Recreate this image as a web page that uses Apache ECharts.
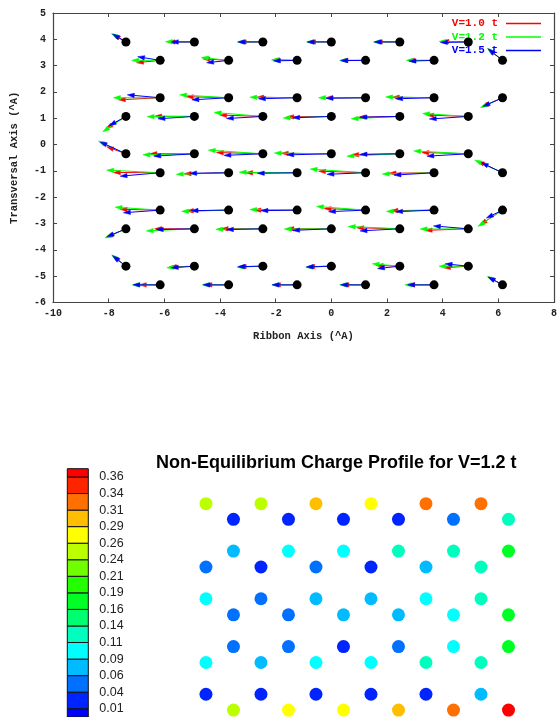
<!DOCTYPE html>
<html>
<head>
<meta charset="utf-8">
<script src="https://cdn.jsdelivr.net/npm/echarts@6/dist/echarts.min.js"></script>
<style>
html,body{margin:0;padding:0;background:#fff;}
#chart{width:560px;height:717px;}
</style>
</head>
<body>
<div id="chart"></div>
<script>
// ---------- data ----------
// atom positions (Angstrom), row by row
const atomX = [
 -7.38,-4.92,-2.46,0,2.46,4.92,
 -6.15,-3.69,-1.23,1.23,3.69,6.15,
 -6.15,-3.69,-1.23,1.23,3.69,6.15,
 -7.38,-4.92,-2.46,0,2.46,4.92,
 -7.38,-4.92,-2.46,0,2.46,4.92,
 -6.15,-3.69,-1.23,1.23,3.69,6.15,
 -6.15,-3.69,-1.23,1.23,3.69,6.15,
 -7.38,-4.92,-2.46,0,2.46,4.92,
 -7.38,-4.92,-2.46,0,2.46,4.92,
 -6.15,-3.69,-1.23,1.23,3.69,6.15
];
const atomY = [
 3.9,3.9,3.9,3.9,3.9,3.9,
 3.2,3.2,3.2,3.2,3.2,3.2,
 1.78,1.78,1.78,1.78,1.78,1.78,
 1.07,1.07,1.07,1.07,1.07,1.07,
 -0.35,-0.35,-0.35,-0.35,-0.35,-0.35,
 -1.07,-1.07,-1.07,-1.07,-1.07,-1.07,
 -2.49,-2.49,-2.49,-2.49,-2.49,-2.49,
 -3.2,-3.2,-3.2,-3.2,-3.2,-3.2,
 -4.62,-4.62,-4.62,-4.62,-4.62,-4.62,
 -5.33,-5.33,-5.33,-5.33,-5.33,-5.33
];
// current vectors for V=1.0 t (red)
const dxR = [
 -0.45,-0.95,-0.85,-0.82,-0.88,-0.95,
 -0.85,-0.93,-0.88,-0.88,-0.95,-0.50,
 -1.50,-1.52,-1.45,-1.43,-1.50,-0.75,
 -0.72,-1.43,-1.55,-1.60,-1.49,-1.49,
 -0.69,-1.60,-1.67,-1.80,-1.73,-1.67,
 -1.68,-1.60,-1.85,-1.69,-1.62,-0.90,
 -1.44,-1.52,-1.55,-1.49,-1.55,-0.80,
 -0.72,-1.43,-1.50,-1.60,-1.55,-1.55,
 -0.45,-0.90,-0.85,-0.85,-0.85,-0.89,
 -0.75,-0.85,-0.85,-0.85,-0.95,-0.50
];
const dyR = [
 0.28,0,0,0,0,0.02,
 -0.09,0.06,0.02,0,0,0.42,
 -0.08,0.04,0.02,0,0.02,-0.35,
 -0.46,0.01,0.05,-0.02,-0.03,0.05,
 0.27,0,0.05,0.02,-0.04,0.05,
 0.01,-0.04,0,0.06,-0.02,0.44,
 0.03,-0.03,0,0.06,-0.02,-0.55,
 -0.33,0,0,0,0.04,-0.06,
 0.38,-0.03,-0.02,-0.02,0.03,-0.06,
 0,0,0,0,0,0.30
];
// V=1.2 t (green)
const dxG = [
 -0.52,-1.04,-0.92,-0.89,-0.95,-1.05,
 -1.02,-0.98,-0.92,-0.93,-0.99,-0.55,
 -1.68,-1.76,-1.70,-1.69,-1.74,-0.79,
 -0.83,-1.70,-1.75,-1.73,-1.75,-1.64,
 -0.99,-1.85,-1.96,-2.05,-1.90,-1.96,
 -1.92,-1.88,-2.08,-1.99,-1.86,-1.00,
 -1.62,-1.69,-1.70,-1.76,-1.71,-0.88,
 -0.75,-1.73,-1.69,-1.69,-1.85,-1.73,
 -0.51,-0.99,-0.93,-0.92,-0.99,-1.05,
 -1.00,-0.95,-0.91,-0.93,-1.05,-0.55
];
const dyG = [
 0.32,0.01,0,0,0,0.02,
 0,0.11,0.02,0,0,0.46,
 0,0.11,0.02,0,0.03,-0.37,
 -0.58,-0.01,0.15,-0.06,-0.09,0.11,
 0.48,-0.04,0.14,0.03,-0.09,0.11,
 0.10,-0.06,0.02,0.14,-0.05,0.48,
 0.11,-0.05,0.02,0.14,-0.05,-0.62,
 -0.35,-0.08,-0.02,-0.01,0.09,-0.01,
 0.43,-0.06,-0.04,-0.04,0.09,0,
 0,0,0,0,0,0.32
];
// V=1.5 t (blue)
const dxB = [
 -0.48,-0.83,-0.90,-0.87,-0.92,-1.00,
 -0.81,-0.79,-0.85,-0.90,-0.90,-0.52,
 -1.18,-1.32,-1.39,-1.42,-1.38,-0.70,
 -0.60,-1.31,-1.31,-1.39,-1.43,-1.40,
 -0.93,-1.46,-1.40,-1.60,-1.43,-1.49,
 -1.44,-1.40,-1.43,-1.39,-1.44,-0.76,
 -1.32,-1.35,-1.30,-1.33,-1.38,-0.58,
 -0.68,-1.37,-1.31,-1.39,-1.43,-1.25,
 -0.48,-0.83,-0.90,-0.90,-0.80,-0.83,
 -0.98,-0.92,-0.90,-0.90,-0.95,-0.52
];
const dyB = [
 0.30,0,0,0,0,-0.02,
 0.14,-0.09,-0.02,-0.01,-0.03,0.44,
 0.11,-0.08,-0.04,-0.02,-0.04,-0.33,
 -0.35,-0.09,-0.08,-0.05,-0.03,-0.10,
 0.45,-0.09,-0.06,-0.04,-0.02,-0.09,
 -0.13,-0.02,-0.02,-0.06,-0.09,0.38,
 -0.10,-0.02,-0.02,-0.06,-0.06,-0.30,
 -0.30,-0.03,-0.03,-0.06,-0.08,0.11,
 0.40,-0.06,-0.02,-0.03,-0.09,0.09,
 0,0,0,0,0,0.30
];
// non-equilibrium charge for V=1.2 t, same atom order
const charge = [
 0.25,0.25,0.30,0.275,0.325,0.325,
 0.025,0.025,0.025,0.025,0.05,0.125,
 0.075,0.10,0.10,0.125,0.125,0.175,
 0.05,0.025,0.05,0.025,0.075,0.125,
 0.10,0.05,0.075,0.075,0.10,0.125,
 0.05,0.05,0.075,0.075,0.10,0.175,
 0.05,0.05,0.025,0.05,0.10,0.175,
 0.10,0.075,0.10,0.10,0.125,0.125,
 0.025,0.025,0.025,0.025,0.025,0.075,
 0.25,0.275,0.275,0.30,0.325,0.37
];
// colour bar levels, labels and band colours (lowest first)
const cbLevels = [0.0125,0.0375,0.0625,0.0875,0.1125,0.1375,0.1625,0.1875,0.2125,0.2375,0.2625,0.2875,0.3125,0.3375,0.3625];
const cbLabels = ['0.01','0.04','0.06','0.09','0.11','0.14','0.16','0.19','0.21','0.24','0.26','0.29','0.31','0.34','0.36'];
const cbMin = 0, cbMax = 0.375;
const cbColors = ['#0000ff','#0024ff','#0070ff','#00bbff','#00ffff','#00ffbf','#00ff70','#00ff24',
                  '#24ff00','#70ff00','#bbff00','#ffff00','#ffbf00','#ff7000','#ff2400','#ff0000'];
const seriesNames = ['V=1.0 t','V=1.2 t','V=1.5 t'];
const seriesColors = ['#ff0000','#00ff00','#0000ff'];

// ---------- build ----------
function vecData(dx, dy){ return atomX.map((x,i)=>[x, atomY[i], dx[i], dy[i]]); }
function arrowRenderer(color){
  return function(params, api){
    const x=api.value(0), y=api.value(1), dx=api.value(2), dy=api.value(3);
    const p0=api.coord([x,y]), p1=api.coord([x+dx,y+dy]);
    const ang=Math.atan2(p1[1]-p0[1], p1[0]-p0[0]);
    const L=7, W=2.2;
    const bx=p1[0]-L*Math.cos(ang), by=p1[1]-L*Math.sin(ang);
    const nx=-Math.sin(ang)*W, ny=Math.cos(ang)*W;
    return {type:'group', children:[
      {type:'line', shape:{x1:p0[0],y1:p0[1],x2:bx,y2:by}, style:{stroke:color,lineWidth:1}},
      {type:'polygon', shape:{points:[[p1[0],p1[1]],[bx+nx,by+ny],[bx-nx,by-ny]]}, style:{fill:color,stroke:color,lineWidth:0.5}}
    ]};
  };
}
const cbData = [];
const cbEdges = [cbMin].concat(cbLevels).concat([cbMax]);
for (let i=0;i<cbColors.length;i++) cbData.push([cbEdges[i], cbEdges[i+1], i]);
const pieces = cbColors.map((c,i)=>{
  const p = {color:c};
  if (i>0) p.gte = cbLevels[i-1];
  if (i<cbLevels.length) p.lt = cbLevels[i];
  return p;
});

const monoFont = 'Liberation Mono';
const tickLabel = {fontFamily:monoFont, fontWeight:'bold', fontSize:10, color:'#222'};
const axLine = {show:true, onZero:false, lineStyle:{color:'#444', width:1.2}};
const axTick = {show:true, inside:true, length:4, lineStyle:{color:'#444', width:1}};

const chart = echarts.init(document.getElementById('chart'), null, {renderer:'canvas'});
const vecSeries = seriesNames.map((name,k)=>({
  name, type:'custom', xAxisIndex:0, yAxisIndex:0,
  itemStyle:{color:seriesColors[k]},
  renderItem: arrowRenderer(seriesColors[k]),
  encode:{x:0, y:1},
  data: vecData([dxR,dxG,dxB][k], [dyR,dyG,dyB][k]),
  z: 2+k, silent:true, animation:false
}));

chart.setOption({
  backgroundColor:'#ffffff',
  animation:false,
  title:{
    text:'Non-Equilibrium Charge Profile for V=1.2 t',
    left:156, top:454, padding:0,
    textStyle:{fontFamily:'Liberation Sans', fontWeight:'bold', fontSize:18, color:'#000'}
  },
  legend:{
    orient:'vertical', right:14, top:13, align:'right',
    itemWidth:35, itemHeight:1.5, itemGap:2.5, icon:'rect',
    textStyle:{fontFamily:monoFont, fontWeight:'bold', fontSize:11, padding:[0,3,0,0]},
    data: seriesNames.map((n,k)=>({name:n, textStyle:{color:seriesColors[k]}, itemStyle:{color:seriesColors[k]}})),
    selectedMode:false
  },
  visualMap:{type:'piecewise', show:false, seriesIndex:4, dimension:2, pieces},
  grid:[
    {left:53, top:13, width:504, height:289.5},
    {left:192.1, top:490.3, width:335.4, height:223.6},
    {left:67.3, top:468.7, width:21, height:250}
  ],
  xAxis:[
    {gridIndex:0, type:'value', min:-10, max:8, interval:2, position:'bottom',
     axisLine:axLine, axisTick:axTick, splitLine:{show:false},
     axisLabel:Object.assign({margin:6}, tickLabel),
     name:'Ribbon Axis (^A)', nameLocation:'middle', nameGap:28,
     nameTextStyle:{fontFamily:monoFont, fontWeight:'bold', fontSize:10.5, color:'#222'}},
    {gridIndex:0, type:'value', min:-10, max:8, interval:2, position:'top',
     axisLine:axLine, axisTick:axTick, axisLabel:{show:false}, splitLine:{show:false}},
    {gridIndex:1, type:'value', min:-8, max:7, show:false},
    {gridIndex:2, type:'value', min:0, max:1, show:false}
  ],
  yAxis:[
    {gridIndex:0, type:'value', min:-6, max:5, interval:1, position:'left',
     axisLine:axLine, axisTick:axTick, splitLine:{show:false},
     axisLabel:Object.assign({margin:7}, tickLabel),
     name:'Transversal Axis (^A)', nameLocation:'middle', nameGap:33, nameRotate:90,
     nameTextStyle:{fontFamily:monoFont, fontWeight:'bold', fontSize:10.5, color:'#222'}},
    {gridIndex:0, type:'value', min:-6, max:5, interval:1, position:'right',
     axisLine:axLine, axisTick:axTick, axisLabel:{show:false}, splitLine:{show:false}},
    {gridIndex:1, type:'value', min:-5.5, max:4.5, show:false},
    {gridIndex:2, type:'value', min:cbMin, max:cbMax, position:'right',
     axisLine:{show:false}, axisTick:{show:false}, splitLine:{show:false},
     axisLabel:{show:true, customValues:cbLevels, margin:11,
       fontFamily:'Liberation Sans', fontSize:12.5, color:'#222', padding:[5,0,0,0],
       formatter:(v)=>{ let j=0,b=1e9; cbLevels.forEach((l,i)=>{ if(Math.abs(l-v)<b){b=Math.abs(l-v); j=i;} }); return cbLabels[j]; }}}
  ],
  series: vecSeries.concat([
    {name:'atoms', type:'scatter', xAxisIndex:0, yAxisIndex:0, symbolSize:9,
     itemStyle:{color:'#000', opacity:1}, data:atomX.map((x,i)=>[x,atomY[i]]), z:10, silent:true},
    {name:'charge', type:'scatter', xAxisIndex:2, yAxisIndex:2, symbolSize:13,
     itemStyle:{opacity:1},
     data:atomX.map((x,i)=>[x,atomY[i],charge[i]]), silent:true},
    {name:'colorbar', type:'custom', xAxisIndex:3, yAxisIndex:3, silent:true,
     encode:{y:[0,1]},
     renderItem:function(params, api){
       const lo=api.value(0), hi=api.value(1), idx=api.value(2);
       const pA=api.coord([0,hi]), pB=api.coord([1,lo]);
       return {type:'rect', shape:{x:pA[0], y:pA[1], width:pB[0]-pA[0], height:pB[1]-pA[1]},
               style:{fill:cbColors[idx], stroke:'#111', lineWidth:1}};
     },
     data:cbData}
  ])
});
</script>
</body>
</html>
